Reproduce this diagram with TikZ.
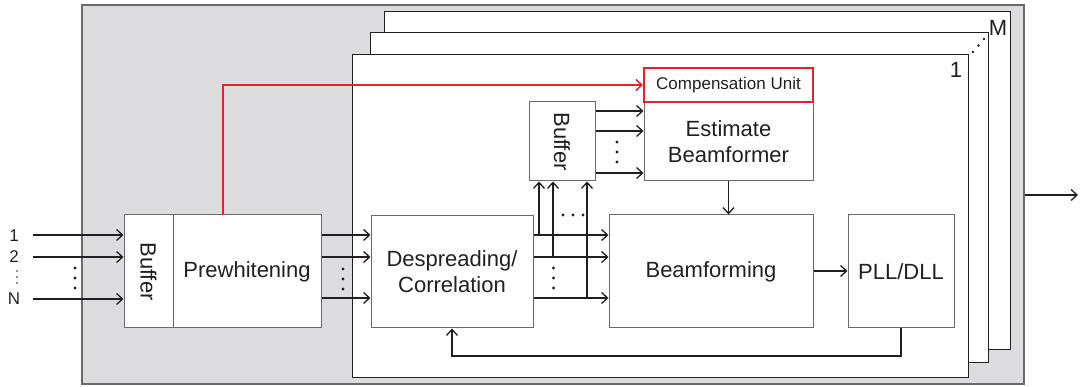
\documentclass[tikz,border=0pt]{standalone}
\usepackage{fontspec}
\setmainfont{Liberation Sans}
\usetikzlibrary{arrows.meta,calc}
\definecolor{bg}{HTML}{DCDCDE}
\definecolor{txt}{HTML}{231F20}
\definecolor{boxline}{HTML}{6A6A6A}
\definecolor{redl}{HTML}{E8202A}
\begin{document}
\begin{tikzpicture}[x=1pt,y=-1pt,
  every node/.style={text=txt},
  blk/.style={draw=boxline,line width=1pt,fill=white,inner sep=0pt,align=center,
    font=\fontsize{22}{26}\selectfont},
  frm/.style={draw=txt,line width=1pt,fill=white,inner sep=0pt},
  arr/.style={draw=txt,line width=1.5pt,-{Straight Barb[length=6pt,width=11pt,line width=1.3pt]}},
  redarr/.style={draw=redl,line width=2pt,-{Straight Barb[length=6pt,width=11pt,line width=1.5pt]}},
  lbl/.style={inner sep=0pt,font=\fontsize{17}{19}\selectfont},
  big/.style={inner sep=0pt,font=\fontsize{22}{26}\selectfont},
  dt/.style={fill=txt,draw=none},
]
\useasboundingbox (0,0) rectangle (1080,387);
% outer gray
\node[draw=boxline,line width=1.5pt,fill=bg,minimum width=942,minimum height=379,inner sep=0pt] (gray) at (553,194.5) {};
% stacked frames
\node[frm,minimum width=626,minimum height=338] (f3) at (697,181) {};
\node[frm,minimum width=618,minimum height=330] (f2) at (679,198) {};
\node[frm,minimum width=616,minimum height=323] (f1) at (660,216) {};
\node[big] (lM) at (998,28) {M};
\node[big] (l1) at (956,70) {1};
\fill[dt] (973,52) circle (1.3) (978.5,45.5) circle (1.3) (984,39) circle (1.3);
% blocks
\node[blk,minimum width=49,minimum height=113] (buf1) at (148.5,271.5) {\rotatebox{-90}{Buffer}};
\node[blk,minimum width=148,minimum height=113] (prew) at (247,271.5) {Prewhitening};
\node[blk,minimum width=162,minimum height=112] (desp) at (452,272) {Despreading/\\Correlation};
\node[blk,minimum width=66,minimum height=79] (buf2) at (562,141.5) {\rotatebox{-90}{Buffer}};
\node[blk,minimum width=169,minimum height=79] (est) at (728.5,141.5) {Estimate\\Beamformer};
\node[blk,draw=redl,line width=2pt,minimum width=169,minimum height=34,font=\fontsize{17}{20}\selectfont] (comp) at (728.5,85) {Compensation Unit};
\node[blk,minimum width=204,minimum height=113] (beam) at (711,271.5) {Beamforming};
\node[blk,minimum width=106,minimum height=113] (pll) at (901,271.5) {PLL/DLL};
% inputs
\node[lbl] (n1) at (14,236) {1};
\node[lbl] (n2) at (14,257) {2};
\node[lbl] (nN) at (14,299) {N};
\fill[dt] (17,271) circle (0.8) (17,277) circle (0.8) (17,283) circle (0.8);
\coordinate (i1) at (33,235);
\coordinate (i2) at (33,257);
\coordinate (iN) at (33,299);
\draw[arr] (i1) -- (i1 -| buf1.west);
\draw[arr] (i2) -- (i2 -| buf1.west);
\draw[arr] (iN) -- (iN -| buf1.west);
\fill[dt] (75,268) circle (1.6) (75,278) circle (1.6) (75,288) circle (1.6);
% prewhitening -> despreading
\coordinate (ya) at (0,235);
\coordinate (yb) at (0,257);
\coordinate (yc) at (0,298);
\draw[arr] (prew.east |- ya) -- (desp.west |- ya);
\draw[arr] (prew.east |- yb) -- (desp.west |- yb);
\draw[arr] (prew.east |- yc) -- (desp.west |- yc);
\fill[dt] (343,269) circle (1.6) (343,279) circle (1.6) (343,289) circle (1.6);
% despreading -> beamforming
\draw[arr] (desp.east |- ya) -- (beam.west |- ya);
\draw[arr] (desp.east |- yb) -- (beam.west |- yb);
\draw[arr] (desp.east |- yc) -- (beam.west |- yc);
\fill[dt] (553.5,268) circle (1.6) (553.5,278) circle (1.6) (553.5,288) circle (1.6);
% taps to buffer 2
\coordinate (xa) at (539,0);
\coordinate (xb) at (553,0);
\coordinate (xc) at (587,0);
\draw[arr] (xa |- ya) -- (xa |- buf2.south);
\draw[arr] (xb |- yb) -- (xb |- buf2.south);
\draw[arr] (xc |- yc) -- (xc |- buf2.south);
\fill[dt] (563,215) circle (1.6) (573,215) circle (1.6) (583,215) circle (1.6);
% buffer 2 -> estimate
\coordinate (yd) at (0,111);
\coordinate (ye) at (0,131);
\coordinate (yf) at (0,173);
\draw[arr] (buf2.east |- yd) -- (est.west |- yd);
\draw[arr] (buf2.east |- ye) -- (est.west |- ye);
\draw[arr] (buf2.east |- yf) -- (est.west |- yf);
\fill[dt] (617,142) circle (1.6) (617,152) circle (1.6) (617,162) circle (1.6);
% estimate -> beamforming
\draw[arr] (est.south) -- (est.south |- beam.north);
% beamforming -> pll
\draw[arr] (beam.east |- 0,271) -- (pll.west |- 0,271);
% feedback
\coordinate (fb) at (0,356);
\draw[arr] (pll.south) -- (pll.south |- fb) -| (desp.south);
% red line
\coordinate (rt) at (222.5,85);
\draw[redarr] (prew.north -| rt) -- (rt) -- (comp.west |- rt);
% output
\coordinate (out) at (1078,195);
\draw[arr] (gray.east |- out) -- (out);
\end{tikzpicture}
\end{document}
